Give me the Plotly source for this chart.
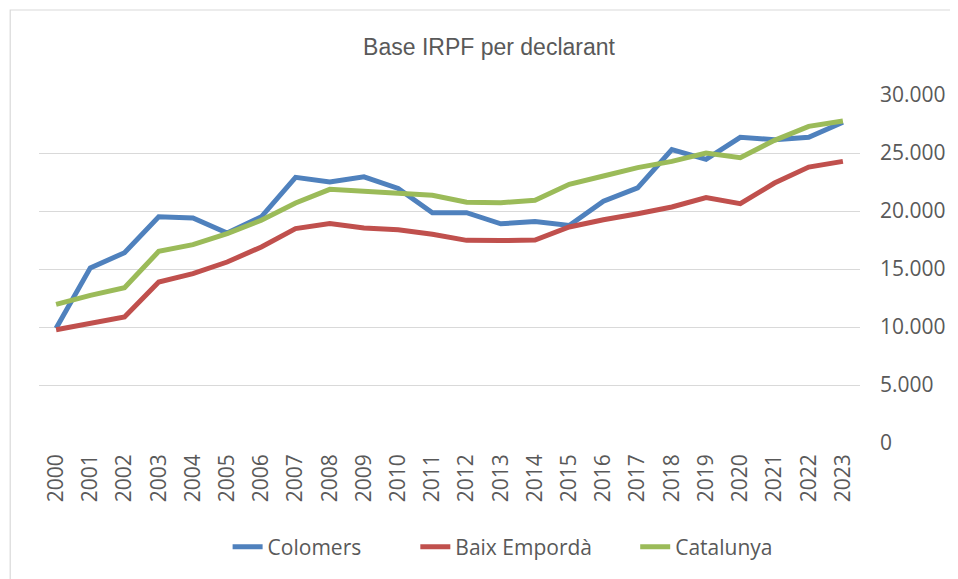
import plotly.graph_objects as go

years = [str(y) for y in range(2000, 2024)]
colomers = [9900, 15100, 16400, 19500, 19400, 18100, 19500, 22900, 22500, 22950,
            21950, 19850, 19850, 18900, 19100, 18750, 20850, 22000, 25300, 24450,
            26350, 26150, 26350, 27650]
baix_emporda = [9770, 10290, 10870, 13880, 14600, 15600, 16900, 18480, 18910, 18530,
                18390, 17990, 17470, 17450, 17500, 18620, 19250, 19770, 20350, 21150,
                20630, 22410, 23790, 24280]
catalunya = [11950, 12730, 13390, 16520, 17100, 18050, 19200, 20690, 21870, 21700,
             21580, 21350, 20750, 20720, 20920, 22300, 23020, 23740, 24280, 25000,
             24600, 26090, 27300, 27760]
series_names = ["Colomers", "Baix Empordà", "Catalunya"]
colors = ["#4F81BD", "#C0504D", "#9BBB59"]
y_ticks = [0, 5000, 10000, 15000, 20000, 25000, 30000]
y_tick_labels = ["0", "5.000", "10.000", "15.000", "20.000", "25.000", "30.000"]

# page body has an 8px margin; work in screen coords and convert
OFF = 8
W, H = 958 - OFF, 579 - OFF
px_left, px_right, px_top, px_bottom = 39 - OFF, 866 - OFF, 95 - OFF, 443 - OFF
L, R, T, B = px_left, W - px_right, px_top, H - px_bottom
pw = px_right - px_left
ph = px_bottom - px_top

pads = [9, 7, 0]

fig = go.Figure()
for name, vals, col, pad in zip(series_names, [colomers, baix_emporda, catalunya], colors, pads):
    fig.add_trace(go.Scatter(x=years, y=vals, name=name + "\u00a0" * pad, mode="lines",
                             line=dict(color=col, width=5)))

fig.update_layout(
    width=W, height=H,
    margin=dict(l=L, r=R, t=T, b=B),
    paper_bgcolor="white", plot_bgcolor="white",
    font=dict(family="Open Sans, Arial, sans-serif", color="#595959", size=21),
    title=dict(text="Base IRPF per declarant",
               font=dict(family="Liberation Sans, Arial", size=23, color="#595959"),
               x=(489 - OFF) / W, xanchor="center", xref="container",
               y=1 - (47 - OFF) / H, yanchor="middle", yref="container"),
    xaxis=dict(type="category", range=[-0.5, 23.5], tickangle=-90,
               showgrid=False, showline=False, ticks="", zeroline=False,
               ticklabelstandoff=6,
               tickfont=dict(size=21, color="#595959")),
    yaxis=dict(side="right", range=[0, 30000], tickvals=y_ticks, ticktext=y_tick_labels,
               showgrid=True, gridcolor="#D9D9D9", gridwidth=1.3, zeroline=False,
               showline=False, ticks="", ticklabelstandoff=19,
               tickfont=dict(size=21, color="#595959")),
    legend=dict(orientation="h", x=(506 - OFF - L) / pw, xanchor="center",
                y=-(547 - OFF - px_bottom) / ph, yanchor="middle",
                font=dict(size=21, color="#595959"), bgcolor="rgba(0,0,0,0)"),
    showlegend=True,
)

fig.add_shape(type="rect", xref="paper", yref="paper",
              x0=(10 - OFF - L) / pw, x1=1.3, y0=-0.6, y1=(px_bottom - (10 - OFF)) / ph,
              line=dict(color="#D9D9D9", width=1.2), fillcolor="rgba(0,0,0,0)",
              layer="below")

fig.write_html("out.html")
